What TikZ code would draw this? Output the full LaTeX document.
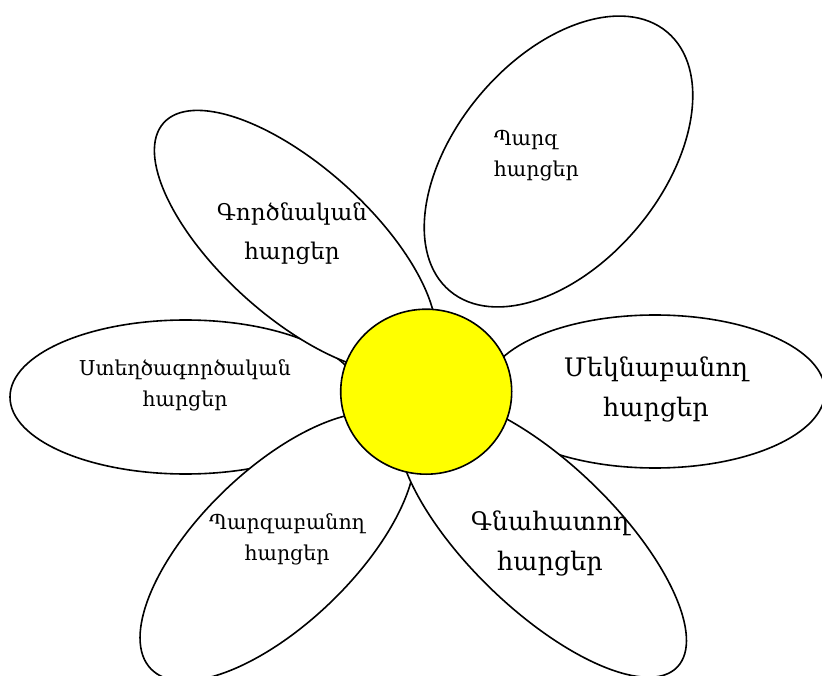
\documentclass[tikz,border=0pt]{standalone}
\usepackage{fontspec}
\setmainfont{DejaVu Serif}
\usetikzlibrary{shapes.geometric}
\definecolor{sun}{RGB}{255,255,0}
\tikzset{
  petal/.style={draw, fill=white, ellipse, inner sep=0pt},
  txtsmall/.style={font=\fontsize{20.5}{31}\selectfont, align=center, inner sep=0pt},
  txtmid/.style={font=\fontsize{23}{39}\selectfont, align=center, inner sep=0pt},
  txtbig/.style={font=\fontsize{25.5}{40}\selectfont, align=center, inner sep=0pt}
}
\begin{document}
\begin{tikzpicture}[x=1pt, y=1pt, line width=1.6pt]
\useasboundingbox (0,0) rectangle (822,-676);
% petals, back to front
\node[petal, minimum width=351pt, minimum height=154pt] (stegh) at (185.5,-397) {};
\node[petal, minimum width=354pt, minimum height=150pt, rotate=-42] (gorts) at (295.2,-241.3) {};
\node[petal, minimum width=338pt, minimum height=206pt, rotate=50] (parz) at (558.5,-161.5) {};
\node[petal, minimum width=340pt, minimum height=153pt] (mekn) at (655,-391.5) {};
\node[petal, minimum width=352pt, minimum height=154pt, rotate=44] (parzab) at (277.5,-546.6) {};
\node[petal, minimum width=376pt, minimum height=146pt, rotate=-44] (gnah) at (542,-536.5) {};
% centre of the flower
\node[draw, fill=sun, ellipse, minimum width=171pt, minimum height=165pt] (kentron) at (426.2,-391.7) {};
% labels
\node[txtsmall, align=left, anchor=west] (parz-t) at (493,-156) {Պարզ\\հարցեր};
\node[txtmid] (gorts-t) at (292,-234) {Գործնական\\հարցեր};
\node[txtsmall] (stegh-t) at (185,-385.5) {Ստեղծագործական\\հարցեր};
\node[txtbig] (mekn-t) at (656,-389) {Մեկնաբանող\\հարցեր};
\node[txtsmall] (parzab-t) at (287,-539) {Պարզաբանող\\հարցեր};
\node[txtbig] (gnah-t) at (550,-543.5) {Գնահատող\\հարցեր};
\end{tikzpicture}
\end{document}
